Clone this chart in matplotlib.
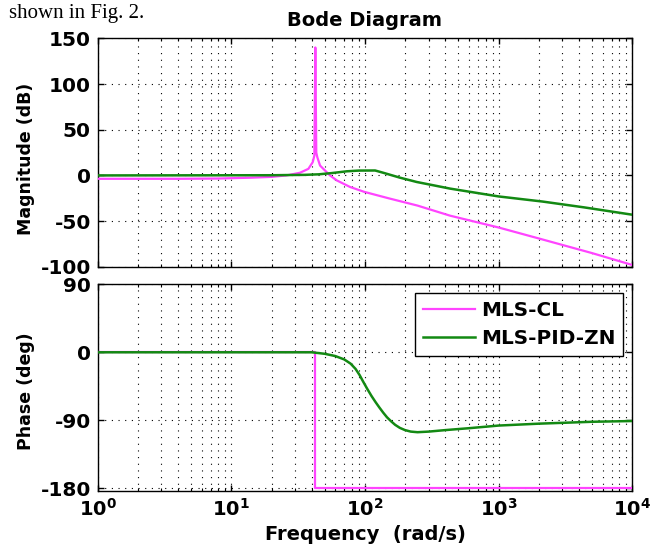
import numpy as np
import matplotlib.pyplot as plt
from matplotlib.ticker import FuncFormatter, LogLocator

plt.rcParams['font.family'] = ['DejaVu Sans']
plt.rcParams['font.weight'] = 'bold'
plt.rcParams['mathtext.default'] = 'bf'
plt.rcParams['axes.unicode_minus'] = False

# --- data ---
# MLS-CL (closed loop) magnitude
cl_mag_w = [1, 4, 8, 14, 20, 25.9, 32.6, 37.7, 40.6, 41.8, 42.5, 43.2, 44.0, 46.1,
            50.2, 54.7, 61.4, 77.2, 98.8, 150, 247, 432, 1000, 2000, 5000, 10000]
cl_mag_db = [-3.7, -3.7, -3.4, -2.5, -1.6, 0, 2.9, 7.2, 14.4, 21.6, 140, 25, 19.8, 10.8,
             5.4, 0, -5.4, -12.6, -18, -25, -33, -44, -57, -69, -85, -98]

# MLS-PID-ZN magnitude
pid_mag_w = [1, 20, 35, 45, 56, 73, 90, 119, 137, 183, 244, 325, 432, 1000, 2133, 4375, 10000]
pid_mag_db = [0, 0.2, 0.6, 1.2, 2.5, 4.5, 5.3, 5.4, 2.9, -2.5, -7.2, -10.8, -14.4,
              -23, -28.6, -35, -43]

# phase
cl_ph_w = [1, 42.5, 42.5, 10000]
cl_ph_deg = [0, 0, -180, -180]

pid_ph_w = [1, 40, 50, 60, 70, 78, 85, 91, 97, 104, 112, 120, 128, 137, 146, 156, 168,
            182, 199, 220, 247, 300, 400, 600, 1000, 2000, 5000, 10000]
pid_ph_deg = [0, 0, -2, -5, -9.5, -15, -22, -30, -39, -48.5, -58, -66, -73, -80, -86,
              -91, -96, -100, -103, -105, -105.8, -105, -103, -100.5, -97, -94.5, -92, -91]

labels = ['MLS-CL', 'MLS-PID-ZN']
col_cl = '#ff44ff'
col_pid = '#138913'

fig = plt.figure(figsize=(6.54, 5.54), dpi=100)

# bout de texte du papier au-dessus de la figure
fig.text(0.013, 0.968, 'shown in Fig. 2.', family='Liberation Serif', fontweight='normal',
         fontsize=15, va='baseline', ha='left')

ax1 = fig.add_axes([0.1494, 0.5184, 0.8174, 0.4124])
ax2 = fig.add_axes([0.1494, 0.1146, 0.8174, 0.3722])

ax1.semilogx(cl_mag_w, cl_mag_db, color=col_cl, lw=1.6, zorder=3)
ax1.semilogx(pid_mag_w, pid_mag_db, color=col_pid, lw=1.8, zorder=3)

l1, = ax2.semilogx(cl_ph_w, cl_ph_deg, color=col_cl, lw=1.6, zorder=3)
l2, = ax2.semilogx(pid_ph_w, pid_ph_deg, color=col_pid, lw=1.8, zorder=3)

dots = (0, (1, 5))
for ax in (ax1, ax2):
    ax.set_xlim(1, 1e4)
    ax.xaxis.set_major_locator(LogLocator(base=10, numticks=10))
    ax.xaxis.set_minor_locator(LogLocator(base=10, subs=np.arange(2, 10), numticks=50))
    ax.grid(True, which='major', axis='both', linestyle=dots, color='k', lw=0.8)
    ax.grid(True, which='minor', axis='x', linestyle=dots, color='k', lw=0.8)
    ax.tick_params(which='major', direction='in', length=4, width=1,
                   top=True, right=True, labelsize=14.5, pad=5)
    ax.tick_params(which='minor', direction='in', length=2.5, width=0.8,
                   top=True, right=True)
    for sp in ax.spines.values():
        sp.set_linewidth(1.0)
        sp.set_color('k')

ax1.set_ylim(-100, 150)
ax1.set_yticks([-100, -50, 0, 50, 100, 150])
ax1.tick_params(labelbottom=False)
ax1.set_title('Bode Diagram', fontsize=14, fontweight='bold', pad=9)
ax1.set_ylabel('Magnitude (dB)', fontsize=12.5, fontweight='bold')
ax1.yaxis.set_label_coords(-0.117, 0.472)

ax2.set_ylim(-183, 90)
ax2.set_yticks([-180, -90, 0, 90])
ax2.set_ylabel('Phase (deg)', fontsize=12.5, fontweight='bold')
ax2.yaxis.set_label_coords(-0.117, 0.483)
ax2.xaxis.set_major_formatter(FuncFormatter(lambda v, p: r'$10^{%d}$' % round(np.log10(v))))
ax2.tick_params(axis='x', labelsize=14)
ax2.set_xlabel('Frequency  (rad/s)', fontsize=14, fontweight='bold')
ax2.xaxis.set_label_coords(0.5, -0.165)

leg = ax2.legend([l1, l2], labels, loc='upper right', fontsize=14.4, frameon=True,
                 fancybox=False, framealpha=1, edgecolor='k', borderaxespad=0.45,
                 handlelength=2.6, handletextpad=0.3, borderpad=0.4, labelspacing=0.45)
leg.get_frame().set_linewidth(1.0)
for t in leg.get_texts():
    t.set_fontweight('bold')

fig.savefig('out.png', dpi=100)
